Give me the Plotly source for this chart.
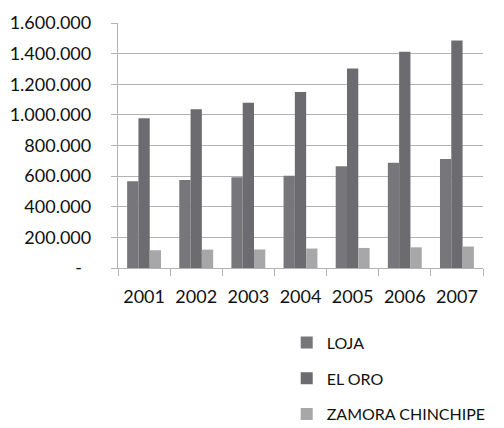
import plotly.graph_objects as go

years = ["2001", "2002", "2003", "2004", "2005", "2006", "2007"]
loja = [567000, 574000, 592000, 602000, 664000, 687000, 712000]
el_oro = [978000, 1037000, 1080000, 1150000, 1303000, 1412000, 1486000]
zamora = [116000, 120000, 121000, 127000, 131000, 135000, 140000]

y_tickvals = [0, 200000, 400000, 600000, 800000, 1000000, 1200000, 1400000, 1600000]
y_ticktext = ["-\u00a0\u00a0", "200.000", "400.000", "600.000", "800.000",
              "1.000.000", "1.200.000", "1.400.000", "1.600.000"]

series = [("LOJA", loja, "#77777b"), ("EL ORO", el_oro, "#6c6c70"),
          ("ZAMORA CHINCHIPE", zamora, "#a7a7a9")]

fig = go.Figure()
for name, vals, col in series:
    fig.add_trace(go.Bar(x=years, y=vals, name=name, marker_color=col,
                         marker_line_width=0, legendgroup=name))

font = dict(family="Lato", size=18, color="#111111")
fig.update_layout(
    width=504, height=428,
    margin=dict(l=110, r=29, t=15, b=168, autoexpand=False),
    plot_bgcolor="white", paper_bgcolor="white",
    font=font,
    barmode="group", bargap=0.35, bargroupgap=0,
    showlegend=True,
    legend=dict(xref="container", yref="container",
                x=0.553, xanchor="left", y=0.258, yanchor="top",
                font=dict(family="Lato", size=16, color="#111111"),
                tracegroupgap=12, traceorder="grouped",
                bgcolor="rgba(0,0,0,0)"),
)
fig.update_yaxes(range=[0, 1600000], tickvals=y_tickvals, ticktext=y_ticktext,
                 showgrid=True, gridcolor="#b3b3b3", gridwidth=1.3,
                 showline=True, linecolor="#b3b3b3", linewidth=1.3,
                 ticks="outside", ticklen=6, tickcolor="#b3b3b3", tickwidth=1.3,
                 ticklabelstandoff=16, zeroline=False, fixedrange=True,
                 automargin=False)
fig.update_xaxes(showline=True, linecolor="#b3b3b3", linewidth=1.3,
                 ticks="outside", tickson="boundaries", ticklen=7,
                 tickcolor="#b3b3b3", tickwidth=1.3, ticklabelstandoff=12,
                 tickangle=0, tickfont=dict(family="Lato", size=18),
                 showgrid=False, fixedrange=True, automargin=False)

fig.write_html("out.html")
